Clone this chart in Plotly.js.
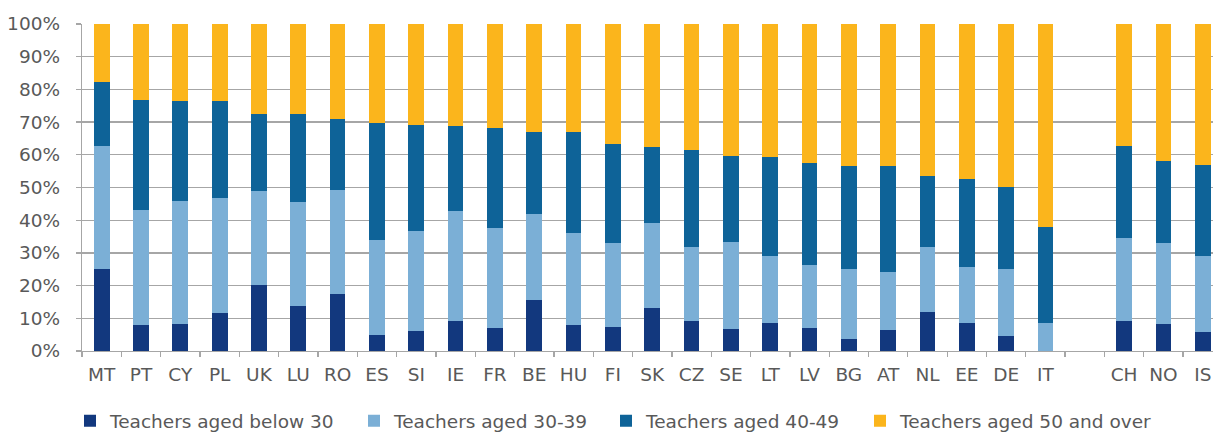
<!DOCTYPE html>
<html>
<head>
<meta charset="utf-8">
<script src="https://cdn.plot.ly/plotly-3.0.1.min.js"></script>
<style>html,body{margin:0;padding:0;background:#fff;overflow:hidden}#chart{width:1213px;height:432px}</style>
</head>
<body>
<div id="chart"></div>
<script>
const countries = ["MT","PT","CY","PL","UK","LU","RO","ES","SI","IE","FR","BE","HU","FI","SK","CZ","SE","LT","LV","BG","AT","NL","EE","DE","IT"," ","CH","NO","IS"];
const below30 = [25.2,8.1,8.4,11.7,20.3,13.9,17.3,5.0,6.2,9.1,7.1,15.5,8.1,7.4,13.3,9.1,6.6,8.6,6.9,3.8,6.4,12.0,8.6,4.7,0.0,null,9.1,8.4,5.8];
const aged30to39 = [37.5,35.0,37.5,35.1,28.7,31.7,31.9,28.9,30.6,33.6,30.5,26.3,28.0,25.5,25.7,22.7,26.8,20.5,19.4,21.4,17.8,19.7,17.1,20.4,8.6,null,25.5,24.6,23.4];
const aged40to49 = [19.7,33.6,30.7,29.8,23.5,26.8,21.6,35.7,32.2,26.1,30.6,25.2,30.9,30.4,23.3,29.8,26.3,30.3,31.2,31.5,32.5,21.9,26.9,25.1,29.3,null,28.1,25.2,27.7];
const aged50plus = [17.6,23.3,23.4,23.4,27.5,27.6,29.2,30.4,31.0,31.2,31.8,33.0,33.0,36.7,37.7,38.4,40.3,40.6,42.5,43.3,43.3,46.4,47.4,49.8,62.1,null,37.3,41.8,43.1];
const seriesNames = ["Teachers aged below 30","Teachers aged 30-39","Teachers aged 40-49","Teachers aged 50 and over"];
const seriesColors = ["#12387e","#7bafd6","#0e6398","#fbb51c"];
const seriesValues = [below30, aged30to39, aged40to49, aged50plus];

const FONT = "DejaVu Sans, Verdana, sans-serif";
const FS = 18.5;
const legendIds = ["legend","legend2","legend3","legend4"];
const legendLeft = [70, 354, 606, 860];

const traces = seriesValues.map((vals, i) => ({
  type: "bar",
  name: seriesNames[i],
  x: countries,
  y: vals,
  legend: legendIds[i],
  marker: {color: seriesColors[i], line: {width: 0}},
  hoverinfo: "skip"
}));

const layout = {
  width: 1213, height: 432,
  margin: {l: 82, r: 0, t: 24, b: 81, pad: 0},
  paper_bgcolor: "#ffffff", plot_bgcolor: "#ffffff",
  barmode: "stack",
  bargap: 0.6,
  font: {family: FONT, size: FS, color: "#595959"},
  showlegend: true,
  xaxis: {
    type: "category",
    categoryorder: "array",
    categoryarray: countries,
    range: [-0.5, 28.26],
    showline: true, linecolor: "#a6a6a6", linewidth: 1.3,
    ticks: "outside", tickson: "boundaries", ticklen: 5, tickcolor: "#a6a6a6", tickwidth: 1.3,
    ticklabelstandoff: 6,
    showgrid: false, zeroline: false,
    tickfont: {family: FONT, size: FS, color: "#595959"},
    fixedrange: true
  },
  yaxis: {
    range: [0, 100],
    dtick: 10, tick0: 0,
    ticksuffix: "%",
    showline: true, linecolor: "#a6a6a6", linewidth: 1.3,
    ticks: "outside", ticklen: 5, tickcolor: "#a6a6a6", tickwidth: 1.3,
    ticklabelstandoff: 12,
    showgrid: true, gridcolor: "#a6a6a6", gridwidth: 1.3,
    zeroline: false,
    tickfont: {family: FONT, size: FS, color: "#595959"},
    fixedrange: true
  }
};
legendIds.forEach((id, i) => {
  layout[id] = {
    orientation: "h",
    xref: "container", yref: "container",
    x: legendLeft[i] / 1213, y: 0.025, xanchor: "left", yanchor: "middle",
    bgcolor: "rgba(0,0,0,0)",
    font: {family: FONT, size: FS, color: "#595959"},
    itemclick: false
  };
});

Plotly.newPlot("chart", traces, layout, {displayModeBar: false, staticPlot: true});
</script>
</body>
</html>
